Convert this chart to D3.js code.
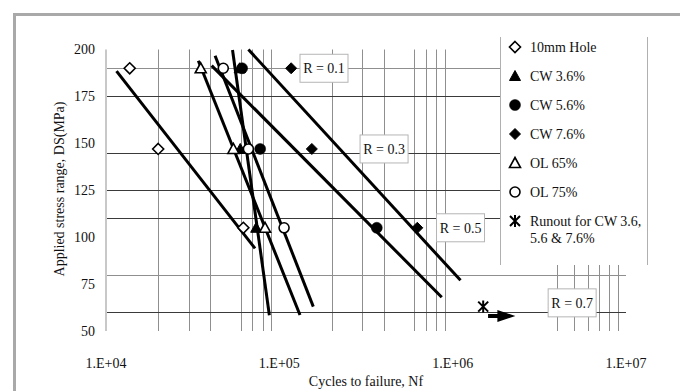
<!DOCTYPE html>
<html>
<head>
<meta charset="utf-8">
<script src="https://cdn.jsdelivr.net/npm/d3@7"></script>
<style>
  body { margin: 0; background: #fff; }
  svg text { font-family: "Liberation Serif", "Times New Roman", serif; fill: #111; }
</style>
</head>
<body>
<div id="chart"></div>
<script>
// data: cycles to failure at each stress level (MPa)
var stressLevels = [190, 147, 105];
var seriesNames = ["10mm Hole", "CW 3.6%", "CW 5.6%", "CW 7.6%", "OL 65%", "OL 75%"];
var seriesMarkers = ["diamondOpen", "triFilled", "circleFilled", "diamondFilled", "triOpen", "circleOpen"];
var hole10 = [1.37e4, 2.0e4, 6.2e4];
var cw36 = [5.9e4, 5.95e4, 7.35e4];
var cw56 = [6.1e4, 7.75e4, 3.65e5];
var cw76 = [1.17e5, 1.54e5, 6.25e5];
var ol65 = [3.52e4, 5.43e4, 8.27e4];
var ol75 = [4.75e4, 6.63e4, 1.065e5];

// fitted lines, [cycles, stress] at each end
var fitHole = [[1.15e4, 188.5], [7.24e4, 94]];
var fitCw36 = [[5.37e4, 199.7], [8.76e4, 58.4]];
var fitCw56 = [[4.07e4, 191.4], [8.65e5, 68]];
var fitCw76 = [[6.63e4, 200], [1.11e6, 77]];
var fitOl65 = [[3.41e4, 194], [1.316e5, 58.5]];
var fitOl75 = [[4.26e4, 196.7], [1.57e5, 63]];

// runout point and its arrow
var runout = [1.5e6, 63];
var runoutArrow = [[1.6e6, 58], [2.3e6, 58]];

// R ratio labels, [cycles, stress] of the box centre
var rLabels = ["R = 0.1", "R = 0.3", "R = 0.5", "R = 0.7"];
var rLabelPos = [[1.81e5, 190], [4.02e5, 147], [1.11e6, 105], [4.89e6, 65]];

// horizontal stress lines and vertical gridlines
var stressLines = [190, 175, 145, 125, 110, 80, 60];
var stressLineLight = [190, 80];
var gridCycles = [2e4, 3e4, 4e4, 6e4, 7e4, 8e4, 9e4,
                  2e5, 3e5, 4e5, 6e5, 7e5, 8e5, 9e5,
                  4e6, 5e6, 6e6, 7e6, 8e6, 9e6];
var xTicks = [1e4, 1e5, 1e6, 1e7];
var xTickLabels = ["1.E+04", "1.E+05", "1.E+06", "1.E+07"];
var yTicks = [50, 75, 100, 125, 150, 175, 200];

var w = 680,
    h = 391;

var svg = d3.select("#chart")
    .append("svg")
    .attr("width", w)
    .attr("height", h);

var x = d3.scaleLog()
    .domain([1e4, 1e7])
    .range([106, 626]);

var y = d3.scaleLinear()
    .domain([50, 200])
    .range([331, 49.5]);

// outer frame (only top and left are visible)
svg.append("path")
    .attr("d", "M14.5," + h + "V14.5H" + w)
    .attr("fill", "none")
    .attr("stroke", "#a9a9a9")
    .attr("stroke-width", 3);

// vertical gridlines
svg.selectAll(".vgrid")
    .data(gridCycles)
    .enter()
    .append("line")
    .attr("x1", function(d) { return Math.round(x(d)) + 0.5; })
    .attr("x2", function(d) { return Math.round(x(d)) + 0.5; })
    .attr("y1", y(200))
    .attr("y2", y(50))
    .attr("stroke", "#8f8f8f")
    .attr("stroke-width", 1);

// horizontal stress lines
svg.selectAll(".hline")
    .data(stressLines)
    .enter()
    .append("line")
    .attr("x1", x(1e4))
    .attr("x2", x(1e7))
    .attr("y1", function(d) { return Math.round(y(d)) + 0.5; })
    .attr("y2", function(d) { return Math.round(y(d)) + 0.5; })
    .attr("stroke", function(d) { return stressLineLight.indexOf(d) >= 0 ? "#8f8f8f" : "#3a3a3a"; })
    .attr("stroke-width", 1);

// left axis line
svg.append("line")
    .attr("x1", x(1e4))
    .attr("x2", x(1e4))
    .attr("y1", y(200))
    .attr("y2", y(50))
    .attr("stroke", "#c8c8c8")
    .attr("stroke-width", 2);

// R labels boxes
var rBox = svg.selectAll(".rlab")
    .data(rLabels)
    .enter()
    .append("g")
    .attr("transform", function(d, i) {
        return "translate(" + x(rLabelPos[i][0]) + "," + y(rLabelPos[i][1]) + ")";
    });
rBox.append("rect")
    .attr("x", -24)
    .attr("y", -14)
    .attr("width", 48)
    .attr("height", 28)
    .attr("fill", "#fff")
    .attr("stroke", "#b5b5b5")
    .attr("stroke-width", 1);
rBox.append("text")
    .attr("text-anchor", "middle")
    .attr("dy", "0.35em")
    .style("font-size", "14px")
    .text(function(d) { return d; });

// fitted lines
var fits = [fitHole, fitCw36, fitCw56, fitCw76, fitOl65, fitOl75];
var line = d3.line()
    .x(function(d) { return x(d[0]); })
    .y(function(d) { return y(d[1]); });
svg.selectAll(".fit")
    .data(fits)
    .enter()
    .append("path")
    .attr("d", line)
    .attr("fill", "none")
    .attr("stroke", "#000")
    .attr("stroke-width", 3);

// marker shapes
function marker(g, type, cx, cy) {
    var s = 5.5;
    if (type == "diamondOpen" || type == "diamondFilled") {
        g.append("path")
            .attr("d", "M" + cx + "," + (cy - s) + "L" + (cx + s) + "," + cy + "L" + cx + "," + (cy + s) + "L" + (cx - s) + "," + cy + "Z")
            .attr("fill", type == "diamondOpen" ? "#fff" : "#000")
            .attr("stroke", "#000")
            .attr("stroke-width", type == "diamondOpen" ? 1.6 : 1);
    } else if (type == "triOpen" || type == "triFilled") {
        g.append("path")
            .attr("d", "M" + cx + "," + (cy - 5.5) + "L" + (cx + 5.5) + "," + (cy + 4.5) + "L" + (cx - 5.5) + "," + (cy + 4.5) + "Z")
            .attr("fill", type == "triOpen" ? "#fff" : "#000")
            .attr("stroke", "#000")
            .attr("stroke-width", type == "triOpen" ? 1.6 : 1);
    } else if (type == "circleOpen" || type == "circleFilled") {
        g.append("circle")
            .attr("cx", cx)
            .attr("cy", cy)
            .attr("r", type == "circleOpen" ? 5 : 5.5)
            .attr("fill", type == "circleOpen" ? "#fff" : "#000")
            .attr("stroke", "#000")
            .attr("stroke-width", type == "circleOpen" ? 1.6 : 0.5);
    } else if (type == "star") {
        g.append("path")
            .attr("d", "M" + (cx - 5) + "," + (cy - 5) + "L" + (cx + 5) + "," + (cy + 5) +
                       "M" + (cx + 5) + "," + (cy - 5) + "L" + (cx - 5) + "," + (cy + 5) +
                       "M" + cx + "," + (cy - 6) + "L" + cx + "," + (cy + 6))
            .attr("fill", "none")
            .attr("stroke", "#000")
            .attr("stroke-width", 2);
    }
}

// data points
var allSeries = [hole10, cw36, cw56, cw76, ol65, ol75];
var pts = svg.append("g");
allSeries.forEach(function(s, k) {
    s.forEach(function(n, i) {
        marker(pts, seriesMarkers[k], x(n), y(stressLevels[i]));
    });
});

// runout
marker(pts, "star", x(runout[0]), y(runout[1]));
svg.append("line")
    .attr("x1", x(runoutArrow[0][0]))
    .attr("x2", x(runoutArrow[1][0]) - 14)
    .attr("y1", y(runoutArrow[0][1]))
    .attr("y2", y(runoutArrow[1][1]))
    .attr("stroke", "#000")
    .attr("stroke-width", 4);
var ax = x(runoutArrow[1][0]),
    ay = y(runoutArrow[1][1]);
svg.append("path")
    .attr("d", "M" + ax + "," + ay + "L" + (ax - 18) + "," + (ay - 6) + "L" + (ax - 18) + "," + (ay + 6) + "Z")
    .attr("fill", "#000");

// y axis labels
svg.selectAll(".ytick")
    .data(yTicks)
    .enter()
    .append("text")
    .attr("x", 95)
    .attr("y", function(d) { return y(d); })
    .attr("dy", "0.35em")
    .attr("text-anchor", "end")
    .style("font-size", "14px")
    .text(function(d) { return d; });

// x axis labels
svg.selectAll(".xtick")
    .data(xTicks)
    .enter()
    .append("text")
    .attr("x", function(d) { return x(d); })
    .attr("y", 368)
    .attr("text-anchor", "middle")
    .style("font-size", "14px")
    .text(function(d, i) { return xTickLabels[i]; });

// axis titles
svg.append("text")
    .attr("transform", "translate(64,189) rotate(-90)")
    .attr("text-anchor", "middle")
    .style("font-size", "14px")
    .text("Applied stress range,  DS(MPa)");

svg.append("text")
    .attr("x", 366)
    .attr("y", 386)
    .attr("text-anchor", "middle")
    .style("font-size", "14px")
    .text("Cycles to failure, Nf");

// legend
var leg = svg.append("g");
leg.append("rect")
    .attr("x", 500)
    .attr("y", 37)
    .attr("width", 147)
    .attr("height", 228)
    .attr("fill", "#fff");
leg.append("line")
    .attr("x1", 500.5).attr("x2", 500.5)
    .attr("y1", 37).attr("y2", 265)
    .attr("stroke", "#b0b0b0");
leg.append("line")
    .attr("x1", 647.5).attr("x2", 647.5)
    .attr("y1", 37).attr("y2", 265)
    .attr("stroke", "#b0b0b0");

var legY = 47, legStep = 29;
seriesNames.forEach(function(name, i) {
    marker(leg, seriesMarkers[i], 515, legY + i * legStep);
    leg.append("text")
        .attr("x", 530)
        .attr("y", legY + i * legStep)
        .attr("dy", "0.35em")
        .style("font-size", "14px")
        .text(name);
});
marker(leg, "star", 515, legY + 6 * legStep);
leg.append("text")
    .attr("x", 530)
    .attr("y", legY + 6 * legStep)
    .attr("dy", "0.35em")
    .style("font-size", "14px")
    .text("Runout for CW 3.6,");
leg.append("text")
    .attr("x", 530)
    .attr("y", legY + 6 * legStep + 17)
    .attr("dy", "0.35em")
    .style("font-size", "14px")
    .text("5.6 & 7.6%");
</script>
</body>
</html>
